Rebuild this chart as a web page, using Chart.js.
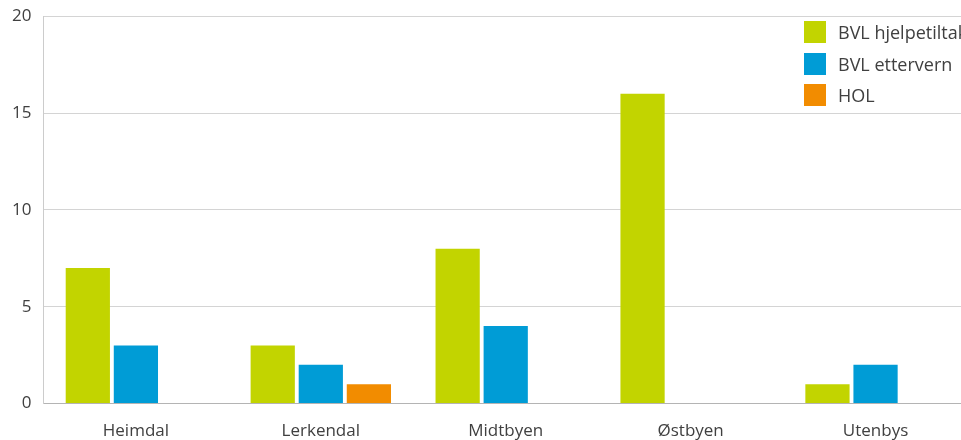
<!DOCTYPE html>
<html>
<head>
<meta charset="utf-8">
<script src="https://cdn.jsdelivr.net/npm/chart.js@4/dist/chart.umd.min.js"></script>
<style>
  html, body { margin: 0; padding: 0; background: #fff; overflow: hidden; }
  #wrap { position: relative; width: 961px; height: 440px; overflow: hidden; }
  #box { position: absolute; left: 0; top: -6px; width: 968px; height: 464px; }
  #legend { position: absolute; left: 804px; top: 21px; font-family: "Open Sans", sans-serif;
            font-size: 18px; color: #404040; white-space: nowrap; }
  #legend div { height: 31.5px; display: flex; align-items: flex-start; }
  #legend span.sw { display: inline-block; width: 22px; height: 22px; margin-right: 12px; }
  #legend span.tx { line-height: 22px; }
</style>
</head>
<body>
<div id="wrap">
  <div id="box"><canvas id="myChart"></canvas></div>
  <div id="legend"></div>
</div>
<script>
const categories = ['Heimdal', 'Lerkendal', 'Midtbyen', 'Østbyen', 'Utenbys'];
const seriesNames = ['BVL hjelpetiltak', 'BVL ettervern', 'HOL'];
const bvlHjelpetiltak = [7, 3, 8, 16, 1];
const bvlEttervern = [3, 2, 4, 0, 2];
const hol = [0, 1, 0, 0, 0];
const yTicks = [0, 5, 10, 15, 20];
const colors = ['#c2d400', '#009cd6', '#f28c00'];

const values = [bvlHjelpetiltak, bvlEttervern, hol];
const font = { family: '"Open Sans", sans-serif', size: 17 };

const ctx = document.getElementById('myChart').getContext('2d');
new Chart(ctx, {
    type: 'bar',
    data: {
        labels: categories,
        datasets: values.map(function(v, i) {
            return {
                label: seriesNames[i],
                data: v,
                backgroundColor: colors[i],
                borderWidth: 0,
                categoryPercentage: 0.78,
                barPercentage: 0.92
            };
        })
    },
    options: {
        responsive: true,
        maintainAspectRatio: false,
        animation: false,
        layout: { padding: { top: -1, left: 0, right: 0, bottom: 0 } },
        plugins: {
            legend: { display: false },
            tooltip: { enabled: false }
        },
        scales: {
            x: {
                grid: { display: false, drawTicks: false },
                border: { color: '#b4b4b4', width: 1 },
                ticks: { color: '#404040', font: font, padding: 17 }
            },
            y: {
                min: 0,
                max: 20,
                afterBuildTicks: function(axis) {
                    axis.ticks = yTicks.map(function(t) { return { value: t }; });
                },
                grid: { color: '#d4d4d4', lineWidth: 1, drawTicks: false },
                border: { color: '#cccccc', width: 1 },
                ticks: { color: '#404040', font: font, padding: 12 }
            }
        }
    }
});

const legend = document.getElementById('legend');
seriesNames.forEach(function(name, i) {
    const row = document.createElement('div');
    row.innerHTML = '<span class="sw" style="background:' + colors[i] + '"></span><span class="tx">' + name + '</span>';
    legend.appendChild(row);
});
</script>
</body>
</html>
